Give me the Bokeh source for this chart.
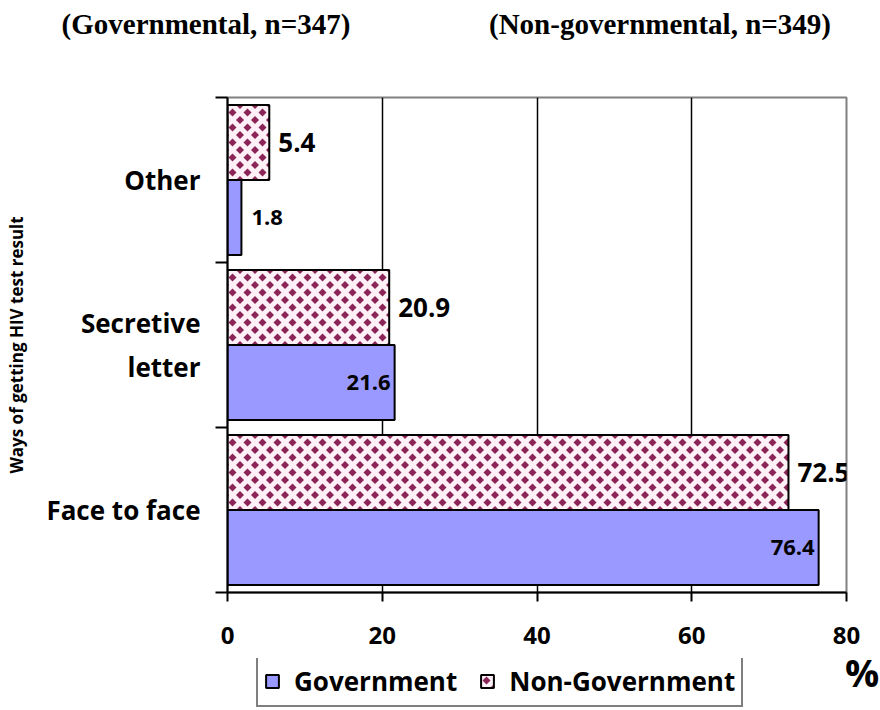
from bokeh.plotting import figure
from bokeh.layouts import column, row
from bokeh.models import (Range1d, FixedTicker, ColumnDataSource, Legend, LegendItem,
                          CanvasTexture, Div)
from bokeh.core.properties import value
from bokeh.embed import file_html
from bokeh.resources import INLINE

# ---- data ----
categories = ["Face to face", "Secretive letter", "Other"]
category_labels = ["Face to face", "Secretive\nletter", "Other"]
government = [76.4, 21.6, 1.8]
non_government = [72.5, 20.9, 5.4]
x_ticks = [0, 20, 40, 60, 80]
series_names = ["Government", "Non-Government"]
titles = ["(Governmental, n=347)", "(Non-governmental, n=349)"]
x_unit = "%"
y_title = "Ways of getting HIV test result"

FONT = "Open Sans"
BAR_H = 0.4545
OFF = BAR_H / 2
W = 880
TOP_H, MAIN_H, BOT_H = 60, 598, 50
FRAME_L, FRAME_R = 227, 846

centers = [i + 0.5 for i in range(len(categories))]
boundaries = list(range(len(categories) + 1))

src = ColumnDataSource(dict(
    gov=government, ngov=non_government,
    y_gov=[c - OFF for c in centers], y_ngov=[c + OFF for c in centers],
    gov_txt=[f"{v:.1f}" for v in government],
    ngov_txt=[f"{v:.1f}" for v in non_government],
    gov_align=["left" if v < 10 else "right" for v in government],
    gov_off=[10 if v < 10 else -4 for v in government],
))

tex = CanvasTexture(code="""
const s = 15, r = 4;
ctx.canvas.width = s;
ctx.canvas.height = s;
ctx.clearRect(0, 0, s, s);
ctx.fillStyle = "#8b2457";
const pts = [[s/2, s/2], [0, 0], [s, 0], [0, s], [s, s]];
for (const pt of pts) {
  const cx = pt[0], cy = pt[1];
  ctx.beginPath();
  ctx.moveTo(cx, cy - r);
  ctx.lineTo(cx + r, cy);
  ctx.lineTo(cx, cy + r);
  ctx.lineTo(cx - r, cy);
  ctx.closePath();
  ctx.fill();
}
""")

GOV_STYLE = dict(fill_color="#9999ff", line_color="black", line_width=2)
NGOV_STYLE = dict(fill_color="#fdf1f7", line_color="black", line_width=2,
                  hatch_pattern=value("diamonds"), hatch_extra={"diamonds": tex},
                  hatch_scale=15, hatch_weight=4, hatch_color="#8b2457")

# ---------- top: titles (HTML) ----------
title_spans = "".join(
    f'<span style="position:absolute;left:{xc}px;top:24px;transform:translate(-50%,-50%);'
    f'white-space:nowrap;">{t}</span>'
    for t, xc in zip(titles, [206, 660]))
top = Div(text=(f'<div style="position:relative;width:{W}px;height:{TOP_H}px;'
                f"font-family:'Liberation Serif';font-weight:bold;font-size:29px;"
                f'color:black;line-height:1;">{title_spans}</div>'),
          width=W, height=TOP_H, margin=0)

# ---------- main chart ----------
p = figure(width=W, height=MAIN_H, output_backend="svg", toolbar_location=None,
           x_range=Range1d(0, 80), y_range=Range1d(0, len(categories)),
           min_border_left=FRAME_L, min_border_right=W - FRAME_R,
           min_border_top=97 - TOP_H, min_border_bottom=TOP_H + MAIN_H - 592)
p.background_fill_color = "white"
p.border_fill_color = "white"
p.outline_line_color = "#808080"
p.outline_line_width = 2

p.ygrid.visible = False
p.xgrid.ticker = FixedTicker(ticks=x_ticks[1:-1])
p.xgrid.grid_line_color = "black"
p.xgrid.grid_line_width = 1.5

p.xaxis.ticker = FixedTicker(ticks=x_ticks)
p.xaxis.axis_line_color = "black"
p.xaxis.axis_line_width = 2
p.xaxis.major_tick_line_color = "black"
p.xaxis.major_tick_line_width = 2
p.xaxis.major_tick_out = 9
p.xaxis.major_tick_in = 0
p.xaxis.minor_tick_line_color = None
p.xaxis.major_label_text_font = FONT
p.xaxis.major_label_text_font_style = "bold"
p.xaxis.major_label_text_font_size = "24px"
p.xaxis.major_label_text_color = "black"
p.xaxis.major_label_standoff = 25

p.yaxis.ticker = FixedTicker(ticks=centers, minor_ticks=boundaries)
p.yaxis.major_label_overrides = {c: lab for c, lab in zip(centers, category_labels)}
p.yaxis.axis_line_color = "black"
p.yaxis.axis_line_width = 2
p.yaxis.major_tick_out = 0
p.yaxis.major_tick_in = 0
p.yaxis.major_tick_line_color = None
p.yaxis.minor_tick_line_color = "black"
p.yaxis.minor_tick_line_width = 2
p.yaxis.minor_tick_out = 12
p.yaxis.minor_tick_in = 0
p.yaxis.major_label_text_font = FONT
p.yaxis.major_label_text_font_style = "bold"
p.yaxis.major_label_text_font_size = "26px"
p.yaxis.major_label_text_color = "black"
p.yaxis.major_label_standoff = 15
p.yaxis.axis_label = y_title
p.yaxis.axis_label_text_font = FONT
p.yaxis.axis_label_text_font_style = "bold"
p.yaxis.axis_label_text_font_size = "17px"
p.yaxis.axis_label_text_color = "black"
p.yaxis.axis_label_standoff = 15

p.hbar(y="y_gov", right="gov", left=0, height=BAR_H, source=src, **GOV_STYLE)
p.hbar(y="y_ngov", right="ngov", left=0, height=BAR_H, source=src, **NGOV_STYLE)

p.text(x="ngov", y="y_ngov", text="ngov_txt", source=src, x_offset=9,
       text_align="left", text_baseline="middle", text_font=value(FONT),
       text_font_style="bold", text_font_size="26px", text_color="black")
p.text(x="gov", y="y_gov", text="gov_txt", source=src, x_offset="gov_off",
       text_align="gov_align", text_baseline="middle", text_font=value(FONT),
       text_font_style="bold", text_font_size="22px", text_color="black")

# ---------- bottom: legend (plot) and unit sign (HTML) ----------
bot = figure(width=FRAME_R, height=BOT_H, output_backend="svg", toolbar_location=None,
             x_range=Range1d(0, 1), y_range=Range1d(0, 1),
             x_axis_type=None, y_axis_type=None,
             min_border_left=FRAME_L, min_border_right=0, min_border_top=0, min_border_bottom=0)
bot.grid.visible = False
bot.outline_line_color = None
bot.background_fill_color = "white"
bot.border_fill_color = "white"
lg_gov = bot.hbar(y="y_gov", right="gov", left=0, height=BAR_H, source=src,
                  visible=False, **GOV_STYLE)
lg_ngov = bot.hbar(y="y_ngov", right="ngov", left=0, height=BAR_H, source=src,
                   visible=False, **NGOV_STYLE)
legend = Legend(items=[LegendItem(label=series_names[0], renderers=[lg_gov]),
                       LegendItem(label=series_names[1], renderers=[lg_ngov])],
                orientation="horizontal", location=(256 - FRAME_L, 1))
legend.label_text_font = FONT
legend.label_text_font_style = "bold"
legend.label_text_font_size = "26px"
legend.label_text_color = "black"
legend.glyph_width = 16
legend.glyph_height = 16
legend.label_standoff = 14
legend.spacing = 22
legend.padding = 6
legend.margin = 0
legend.border_line_color = "black"
legend.border_line_width = 2
legend.background_fill_color = "white"
legend.background_fill_alpha = 1
legend.inactive_fill_alpha = 0
legend.click_policy = "none"
bot.add_layout(legend, "center")

pct = Div(text=(f'<div style="position:relative;width:{W - FRAME_R}px;height:{BOT_H}px;">'
                f'<span style="position:absolute;left:16px;top:{672 - TOP_H - MAIN_H}px;'
                f"transform:translate(-50%,-50%);font-family:'Open Sans';font-weight:bold;"
                f'font-size:38px;line-height:1;color:black;">{x_unit}</span></div>'),
          width=W - FRAME_R, height=BOT_H, margin=0)

layout = column(top, p, row(bot, pct, spacing=0), spacing=0)
open("out.html", "w").write(file_html(layout, INLINE))
